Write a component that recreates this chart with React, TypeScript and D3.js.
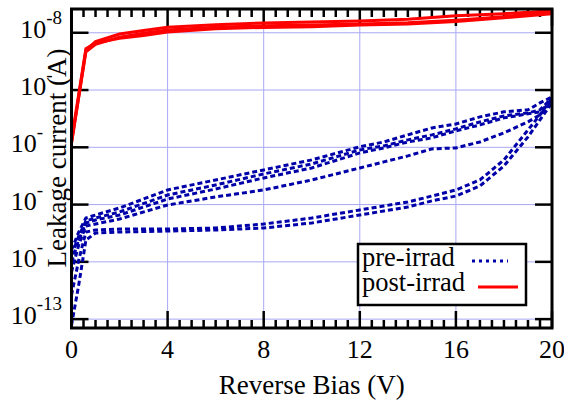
import React from "react";
import * as d3 from "d3";

// reverse bias points (V)
const biasPre = [0, 0.3, 0.6, 1, 2, 4, 6, 8, 10, 12, 13, 14, 15, 16, 17, 18, 19, 19.5, 20];
const biasPost = [0, 0.6, 1, 2, 3, 4, 6, 8, 10, 12, 14, 16, 18, 20];

// leakage current (A), pre-irradiation sensors
const pre1 = [1.61e-12, 3.32e-12, 5.83e-12, 6.58e-12, 8.73e-12, 1.8e-11, 2.69e-11, 4.03e-11, 6.03e-11, 1.02e-10, 1.24e-10, 1.65e-10, 2.18e-10, 2.56e-10, 3.4e-10, 4.16e-10, 4.51e-10, 5.97e-10, 7.6e-10];
const pre2 = [1.31e-12, 2.82e-12, 5.17e-12, 5.83e-12, 7.43e-12, 1.47e-11, 2.2e-11, 3.43e-11, 5.13e-11, 9.01e-11, 1.06e-10, 1.35e-10, 1.65e-10, 2.1e-10, 2.78e-10, 3.54e-10, 3.99e-10, 4.51e-10, 7.31e-10];
const pre3 = [9.93e-13, 2.4e-12, 4.77e-12, 5.38e-12, 6.58e-12, 1.25e-11, 1.87e-11, 2.92e-11, 4.36e-11, 7.98e-11, 9.77e-11, 1.24e-10, 1.46e-10, 1.94e-10, 2.46e-10, 3.27e-10, 3.84e-10, 4.16e-10, 6.74e-10];
const pre4 = [6.64e-13, 1.97e-12, 4.23e-12, 4.58e-12, 5.6e-12, 9.84e-12, 1.36e-11, 1.8e-11, 2.69e-11, 4.36e-11, 5.56e-11, 7.08e-11, 9.38e-11, 9.77e-11, 1.24e-10, 1.79e-10, 2.78e-10, 3.68e-10, 6.22e-10];
const pre5 = [2.63e-13, 1.07e-12, 3.32e-12, 3.6e-12, 3.74e-12, 3.74e-12, 3.9e-12, 4.58e-12, 5.83e-12, 8.05e-12, 9.46e-12, 1.11e-11, 1.41e-11, 1.8e-11, 2.69e-11, 6.03e-11, 2.01e-10, 3.68e-10, 7.31e-10];
const pre6 = [7.85e-14, 3.93e-13, 2.4e-12, 3.19e-12, 3.32e-12, 3.45e-12, 3.6e-12, 3.9e-12, 4.77e-12, 6.58e-12, 7.73e-12, 9.08e-12, 1.16e-11, 1.41e-11, 2.11e-11, 4.73e-11, 1.52e-10, 3.01e-10, 5.97e-10];

// leakage current (A), post-irradiation sensors
const post1 = [1.19e-10, 5.0e-9, 7.0e-9, 9.5e-9, 1.1e-8, 1.25e-8, 1.38e-8, 1.48e-8, 1.54e-8, 1.6e-8, 1.72e-8, 1.98e-8, 2.15e-8, 2.43e-8];
const post2 = [1.19e-10, 4.66e-9, 6.3e-9, 8.4e-9, 9.8e-9, 1.12e-8, 1.25e-8, 1.33e-8, 1.37e-8, 1.42e-8, 1.5e-8, 1.66e-8, 1.91e-8, 2.33e-8];
const post3 = [1.35e-10, 5.25e-9, 6.6e-9, 8.0e-9, 9.0e-9, 1.03e-8, 1.18e-8, 1.24e-8, 1.28e-8, 1.36e-8, 1.42e-8, 1.58e-8, 1.83e-8, 2.15e-8];

const preSeries = [pre1, pre2, pre3, pre4, pre5, pre6];
const postSeries = [post1, post2, post3];

const xMajor = [0, 4, 8, 12, 16, 20];
const yMajor = [1e-8, 1e-9, 1e-10, 1e-11, 1e-12, 1e-13];
// the exponent digits of the inner labels are missing in the source picture
const yExpShown = ["-8", "-", "-", "-", "-", "-13"];
const yExpHidden = ["", "9", "10", "11", "12", ""];

const W = 564;
const H = 409;
const left = 71.5, right = 552, top = 9, bottom = 328;
const font = "Liberation Serif, serif";
const grid = "#a8a8f4";
const blue = "#0000a8";
const red = "#ff0000";

export default function App() {
  const x = d3.scaleLinear().domain([0, 20]).range([left, right]);
  const y = d3.scaleLog().domain([7e-14, 2.6e-8]).range([bottom, top]);

  const line = (xs: number[]) =>
    d3
      .line<number>()
      .x((_, i) => x(xs[i]))
      .y((d) => y(d));

  const preLine = line(biasPre);
  const postLine = line(biasPost);

  const minor = d3.range(0, 20.001, 0.5).filter((v) => v % 4 !== 0);

  return (
    <svg
      width={W}
      height={H}
      style={{ position: "fixed", left: 0, top: 0, background: "#fff", fontFamily: font }}
    >
      <defs>
        <clipPath id="plot">
          <rect x={left} y={top} width={right - left} height={bottom - top} />
        </clipPath>
      </defs>

      {/* grid */}
      <g stroke={grid} strokeWidth={1}>
        {xMajor.slice(1, -1).map((v) => (
          <line key={"gx" + v} x1={x(v)} x2={x(v)} y1={top} y2={bottom} />
        ))}
        {yMajor.map((v) => (
          <line key={"gy" + v} x1={left} x2={right} y1={y(v)} y2={y(v)} />
        ))}
      </g>

      {/* ticks */}
      <g stroke="#000" strokeWidth={2.5}>
        {xMajor.map((v) => (
          <g key={"tx" + v}>
            <line x1={x(v)} x2={x(v)} y1={bottom} y2={bottom - 17} />
            <line x1={x(v)} x2={x(v)} y1={top} y2={top + 17} />
          </g>
        ))}
        {minor.map((v) => (
          <g key={"mx" + v}>
            <line x1={x(v)} x2={x(v)} y1={bottom} y2={bottom - 8} />
            <line x1={x(v)} x2={x(v)} y1={top} y2={top + 8} />
          </g>
        ))}
        {yMajor.map((v) => (
          <g key={"ty" + v}>
            <line x1={left} x2={left + 17} y1={y(v)} y2={y(v)} />
            <line x1={right} x2={right - 17} y1={y(v)} y2={y(v)} />
          </g>
        ))}
      </g>

      {/* data */}
      <g clipPath="url(#plot)" fill="none">
        {preSeries.map((s, i) => (
          <path
            key={"pre" + i}
            d={preLine(s) || ""}
            stroke={blue}
            strokeWidth={3}
            strokeDasharray="5,3"
          />
        ))}
        {postSeries.map((s, i) => (
          <path key={"post" + i} d={postLine(s) || ""} stroke={red} strokeWidth={3} />
        ))}
      </g>

      {/* border */}
      <rect
        x={left}
        y={top}
        width={right - left}
        height={bottom - top}
        fill="none"
        stroke="#000"
        strokeWidth={3}
      />

      {/* x tick labels */}
      <g style={{ fontSize: 26, fontFamily: font }} textAnchor="middle" fill="#000">
        {xMajor.map((v) => (
          <text key={"lx" + v} x={x(v)} y={358}>
            {v}
          </text>
        ))}
      </g>

      {/* y tick labels */}
      <g fill="#000" textAnchor="end" style={{ fontFamily: font }}>
        {yMajor.map((v, i) => (
          <text key={"ly" + v} x={62 - yExpHidden[i].length * 9.5} y={y(v) + 5} style={{ fontSize: 26 }}>
            <tspan>10</tspan>
            <tspan style={{ fontSize: 19 }} dy={-14}>
              {yExpShown[i]}
            </tspan>
          </text>
        ))}
      </g>

      {/* axis titles */}
      <text x={(left + right) / 2} y={394} style={{ fontSize: 27, fontFamily: font }} textAnchor="middle">
        Reverse Bias (V)
      </text>
      <text
        transform={`translate(66,158) rotate(-90)`}
        style={{ fontSize: 27, fontFamily: font }}
        textAnchor="middle"
      >
        Leakage current (A)
      </text>

      {/* legend */}
      <rect x={358} y={244} width={168} height={61} fill="#fff" stroke="#000" strokeWidth={2.5} />
      <text x={362} y={266} style={{ fontSize: 26.5, fontFamily: font }}>
        pre-irrad
      </text>
      <line x1={472} x2={508} y1={261} y2={261} stroke={blue} strokeWidth={3} strokeDasharray="3,4" />
      <text x={362} y={291} style={{ fontSize: 26.5, fontFamily: font }}>
        post-irrad
      </text>
      <line x1={478} x2={518} y1={287} y2={287} stroke={red} strokeWidth={3} />
    </svg>
  );
}
